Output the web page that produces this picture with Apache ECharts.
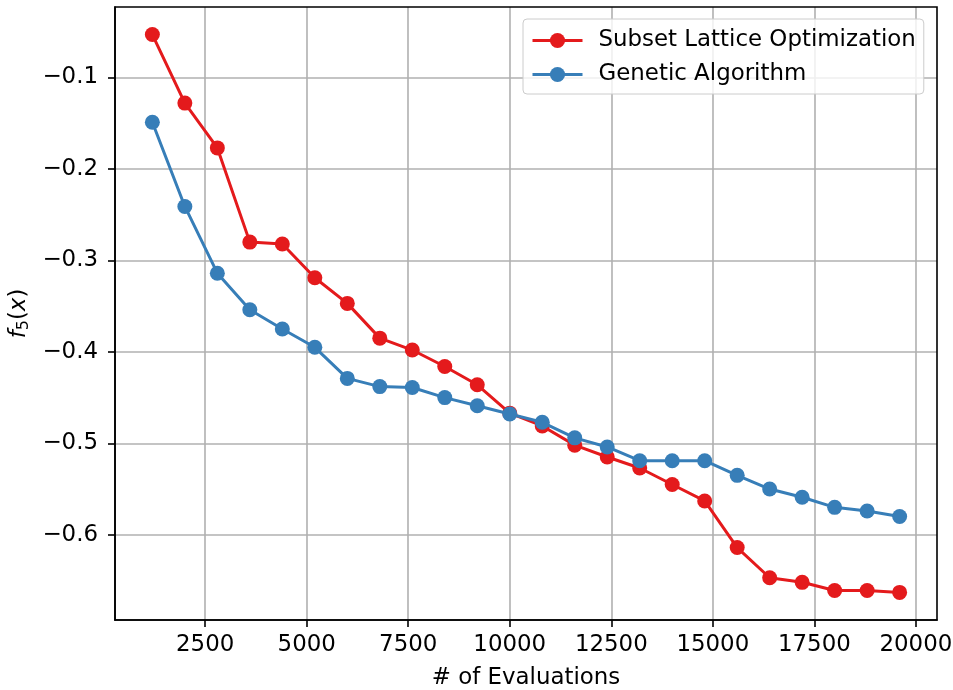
<!DOCTYPE html>
<html>
<head>
<meta charset="utf-8">
<script src="https://cdn.jsdelivr.net/npm/echarts@6/dist/echarts.min.js"></script>
<style>
  html, body { margin: 0; padding: 0; background: #fff; }
  #main { width: 953px; height: 690px; }
</style>
</head>
<body>
<div id="main"></div>
<script>
// evaluations (x) and objective values for each method
var evaluations = [1200, 2000, 2800, 3600, 4400, 5200, 6000, 6800, 7600, 8400, 9200, 10000,
                   10800, 11600, 12400, 13200, 14000, 14800, 15600, 16400, 17200, 18000, 18800, 19600];
var subsetLattice = [-0.053, -0.128, -0.177, -0.280, -0.282, -0.319, -0.347, -0.385, -0.398, -0.416, -0.436, -0.467,
                     -0.481, -0.502, -0.515, -0.527, -0.545, -0.563, -0.614, -0.647, -0.652, -0.661, -0.661, -0.663];
var genetic = [-0.149, -0.241, -0.314, -0.354, -0.375, -0.395, -0.429, -0.438, -0.439, -0.450, -0.459, -0.468,
               -0.477, -0.494, -0.504, -0.519, -0.519, -0.519, -0.535, -0.550, -0.559, -0.570, -0.574, -0.580];
var xTicks = [2500, 5000, 7500, 10000, 12500, 15000, 17500, 20000];
var yTicks = [-0.6, -0.5, -0.4, -0.3, -0.2, -0.1];

var FONT = 'DejaVu Sans';
var FS = 22.9;

function pairs(ys) {
  return evaluations.map(function (x, i) { return [x, ys[i]]; });
}

var myChart = echarts.init(document.getElementById('main'), null, { renderer: 'canvas' });

var option = {
  backgroundColor: '#ffffff',
  animation: false,
  textStyle: { fontFamily: FONT },
  grid: {
    left: 115, right: 16, top: 7, bottom: 70,
    containLabel: false,
    outerBoundsMode: 'none',
    show: false
  },
  legend: {
    orient: 'vertical',
    left: 523,
    top: 19,
    padding: [10, 8, 8, 8],
    itemWidth: 50,
    itemHeight: 19,
    itemGap: 11,
    backgroundColor: 'rgba(255,255,255,0.8)',
    borderColor: '#cccccc',
    borderWidth: 1,
    borderRadius: 4,
    lineStyle: { width: 3 },
    textStyle: { fontFamily: FONT, fontSize: FS, color: '#000', padding: [0, 0, 0, 11] },
    data: ['Subset Lattice Optimization', 'Genetic Algorithm']
  },
  xAxis: {
    type: 'value',
    min: 280,
    max: 20520,
    name: '# of Evaluations',
    nameLocation: 'middle',
    nameGap: 47,
    nameTextStyle: { fontFamily: FONT, fontSize: FS, color: '#000' },
    axisLine: { show: true, onZero: false, lineStyle: { color: '#000', width: 1.6 } },
    axisTick: { show: true, inside: false, length: 7, customValues: xTicks, lineStyle: { color: '#000', width: 1.6 } },
    axisLabel: {
      customValues: xTicks,
      margin: 14,
      fontFamily: FONT, fontSize: FS, color: '#000',
      formatter: function (v) { return String(v); }
    },
    splitLine: { show: true, lineStyle: { color: '#b0b0b0', width: 1.6 } }
  },
  yAxis: {
    type: 'value',
    min: -0.6932,
    max: -0.0229,
    name: '{f|f}{s|5}{p|(}{x|x}{p|)}',
    nameLocation: 'middle',
    nameRotate: 90,
    nameGap: 78,
    nameTextStyle: {
      color: '#000',
      rich: {
        f: { fontFamily: FONT, fontStyle: 'italic', fontSize: FS, color: '#000' },
        s: { fontFamily: FONT, fontSize: 16, color: '#000', verticalAlign: 'bottom', padding: [9, 0, 0, 0] },
        p: { fontFamily: FONT, fontSize: FS, color: '#000' },
        x: { fontFamily: FONT, fontStyle: 'italic', fontSize: FS, color: '#000' }
      }
    },
    axisLine: { show: true, onZero: false, lineStyle: { color: '#000', width: 1.6 } },
    axisTick: { show: true, inside: false, length: 7, customValues: yTicks, lineStyle: { color: '#000', width: 1.6 } },
    axisLabel: {
      customValues: yTicks,
      margin: 17,
      fontFamily: FONT, fontSize: FS, color: '#000',
      formatter: function (v) { return (v < 0 ? '\u2212' : '') + Math.abs(v).toFixed(1); }
    },
    splitLine: { show: true, lineStyle: { color: '#b0b0b0', width: 1.6 } }
  },
  series: [
    {
      name: 'Subset Lattice Optimization',
      type: 'line',
      data: pairs(subsetLattice),
      symbol: 'circle',
      symbolSize: 15,
      color: '#e41a1c',
      lineStyle: { width: 3, color: '#e41a1c' },
      itemStyle: { color: '#e41a1c' },
      z: 3
    },
    {
      name: 'Genetic Algorithm',
      type: 'line',
      data: pairs(genetic),
      symbol: 'circle',
      symbolSize: 15,
      color: '#377eb8',
      lineStyle: { width: 3, color: '#377eb8' },
      itemStyle: { color: '#377eb8' },
      z: 4
    }
  ]
};

myChart.setOption(option);
// top and right frame lines of the plot box
myChart.setOption({
  graphic: [{
    type: 'rect',
    shape: { x: 115, y: 7, width: 953 - 16 - 115, height: 690 - 70 - 7 },
    style: { fill: 'none', stroke: '#000', lineWidth: 1.6 },
    silent: true,
    z: 0
  }]
});
</script>
</body>
</html>
